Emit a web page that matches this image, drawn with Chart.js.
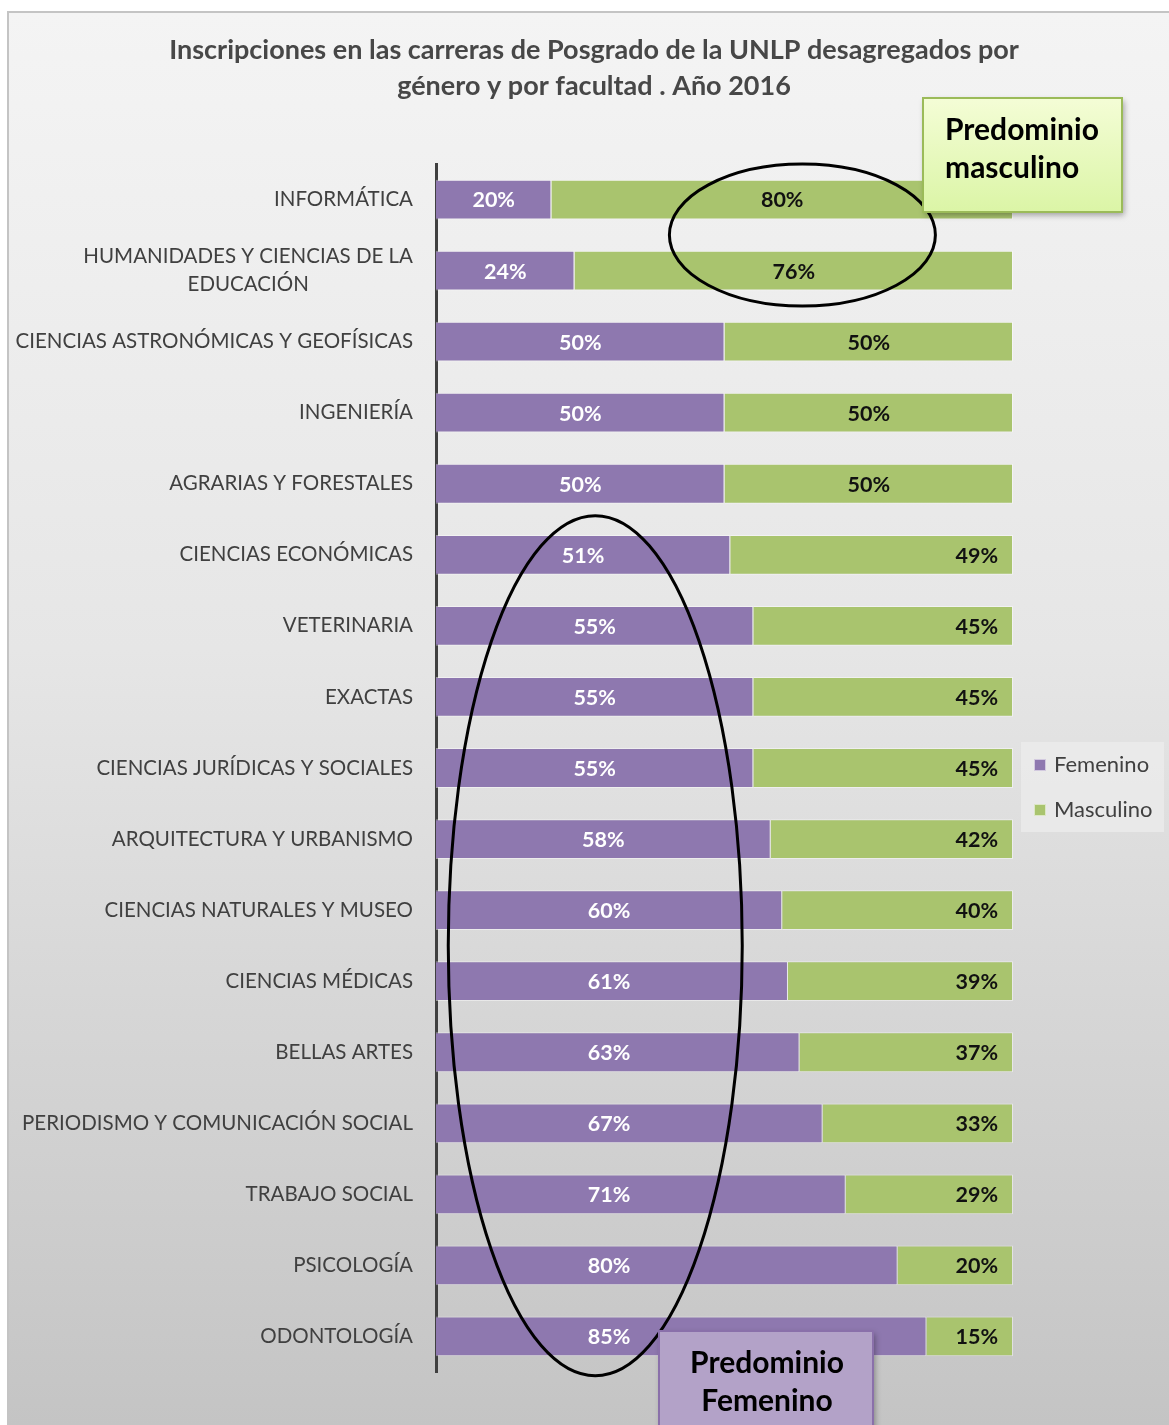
<!DOCTYPE html>
<html>
<head>
<meta charset="utf-8">
<script src="https://cdn.jsdelivr.net/npm/chart.js@4/dist/chart.umd.min.js"></script>
<style>
  html, body { margin: 0; padding: 0; background: #ffffff; }
  #wrap { position: relative; width: 1169px; height: 1425px; overflow: hidden; background: #ffffff; }
  #panel { position: absolute; left: 7px; top: 11px; width: 1162px; height: 1414px;
           border-top: 2px solid #c4c4c4; border-left: 2px solid #c4c4c4; box-sizing: border-box;
           background: linear-gradient(to bottom, #f4f4f4 0%, #e6e6e6 45%, #c4c4c4 100%); }
  canvas { position: absolute; left: 0; top: 0; }
</style>
</head>
<body>
<div id="wrap">
  <div id="panel"></div>
  <canvas id="c" width="1169" height="1425"></canvas>
</div>
<script>
const titleLines = ['Inscripciones en las carreras de Posgrado de la UNLP desagregados por', 'género y por facultad . Año 2016'];
const categories = [
  'INFORMÁTICA',
  ['HUMANIDADES Y CIENCIAS DE LA', 'EDUCACIÓN'],
  'CIENCIAS ASTRONÓMICAS Y GEOFÍSICAS',
  'INGENIERÍA',
  'AGRARIAS Y FORESTALES',
  'CIENCIAS ECONÓMICAS',
  'VETERINARIA',
  'EXACTAS',
  'CIENCIAS JURÍDICAS Y SOCIALES',
  'ARQUITECTURA Y URBANISMO',
  'CIENCIAS NATURALES Y MUSEO',
  'CIENCIAS MÉDICAS',
  'BELLAS ARTES',
  'PERIODISMO Y COMUNICACIÓN SOCIAL',
  'TRABAJO SOCIAL',
  'PSICOLOGÍA',
  'ODONTOLOGÍA'
];
const femenino  = [20, 24, 50, 50, 50, 51, 55, 55, 55, 58, 60, 61, 63, 67, 71, 80, 85];
const masculino = [80, 76, 50, 50, 50, 49, 45, 45, 45, 42, 40, 39, 37, 33, 29, 20, 15];
const seriesNames = ['Femenino', 'Masculino'];
const boxMasculino = ['Predominio', 'masculino'];
const boxFemenino = ['Predominio', 'Femenino'];

const FONT = 'Lato, "Open Sans", sans-serif';
const PURPLE = '#8E78AF';
const GREEN = '#A9C46E';

const customPlugin = {
  id: 'customDraw',
  beforeDraw(chart) {
    const ctx = chart.ctx;
    ctx.save();
    ctx.fillStyle = '#474747';
    ctx.font = 'bold 27px ' + FONT;
    ctx.textAlign = 'center';
    ctx.textBaseline = 'middle';
    ctx.fillText(titleLines[0], 594, 50);
    ctx.fillText(titleLines[1], 594, 86);
    ctx.restore();
  },
  afterDatasetsDraw(chart) {
    const ctx = chart.ctx;
    const xs = chart.scales.x, ys = chart.scales.y;
    ctx.save();
    // category labels
    ctx.fillStyle = '#404040';
    ctx.font = '20.5px ' + FONT;
    ctx.textBaseline = 'middle';
    chart.data.labels.forEach((lab, i) => {
      const y = ys.getPixelForValue(i);
      if (Array.isArray(lab)) {
        ctx.textAlign = 'center';
        let maxW = 0;
        lab.forEach(l => { maxW = Math.max(maxW, ctx.measureText(l).width); });
        const cx = 413 - maxW / 2;
        lab.forEach((l, k) => ctx.fillText(l, cx, y + (k - (lab.length - 1) / 2) * 28));
      } else {
        ctx.textAlign = 'right';
        ctx.fillText(lab, 413, y);
      }
    });
    // value labels
    ctx.font = 'bold 21.5px ' + FONT;
    const limit = xs.getPixelForValue(60);
    chart.data.datasets.forEach((ds, di) => {
      const meta = chart.getDatasetMeta(di);
      meta.data.forEach((el, i) => {
        const p = el.getProps(['x', 'base', 'y'], true);
        const v = ds.data[i];
        const txt = v + '%';
        if (di === 0) {
          ctx.fillStyle = '#ffffff';
          ctx.textAlign = 'center';
          const end = Math.min(p.x, limit);
          ctx.fillText(txt, (p.base + end) / 2, p.y + 1);
        } else {
          ctx.fillStyle = '#111111';
          if (v < 50) {
            ctx.textAlign = 'right';
            ctx.fillText(txt, p.x - 15, p.y + 1);
          } else {
            ctx.textAlign = 'center';
            ctx.fillText(txt, (p.base + p.x) / 2, p.y + 1);
          }
        }
      });
    });
    // legend
    ctx.fillStyle = 'rgba(236,236,236,0.75)';
    ctx.fillRect(1021, 742, 143, 90);
    ctx.font = '22px ' + FONT;
    ctx.textAlign = 'left';
    chart.data.datasets.forEach((ds, di) => {
      const cy = 765 + di * 45;
      ctx.fillStyle = ds.backgroundColor;
      ctx.fillRect(1034, cy - 6, 12, 12);
      ctx.strokeStyle = 'rgba(255,255,255,0.6)';
      ctx.lineWidth = 1;
      ctx.strokeRect(1034.5, cy - 5.5, 11, 11);
      ctx.fillStyle = '#404040';
      ctx.fillText(ds.label, 1054, cy);
    });
    ctx.restore();
  },
  afterDraw(chart) {
    const ctx = chart.ctx;
    const xs = chart.scales.x, ys = chart.scales.y;
    ctx.save();
    // ellipses
    ctx.strokeStyle = '#000000';
    ctx.lineWidth = 3;
    const e1y = (ys.getPixelForValue(0) + ys.getPixelForValue(1)) / 2;
    ctx.beginPath();
    ctx.ellipse(xs.getPixelForValue(63.5), e1y, 133, 71, 0, 0, Math.PI * 2);
    ctx.stroke();
    const e2y = (ys.getPixelForValue(5) + ys.getPixelForValue(16)) / 2;
    ctx.beginPath();
    ctx.ellipse(xs.getPixelForValue(27.6), e2y, 147, 430, 0, 0, Math.PI * 2);
    ctx.stroke();

    // masculino box
    ctx.save();
    ctx.shadowColor = 'rgba(0,0,0,0.35)';
    ctx.shadowBlur = 6;
    ctx.shadowOffsetX = 2;
    ctx.shadowOffsetY = 3;
    let g = ctx.createLinearGradient(0, 98, 0, 212);
    g.addColorStop(0, '#f4fdd6');
    g.addColorStop(1, '#dbf5a6');
    ctx.fillStyle = g;
    ctx.fillRect(923, 98, 199, 114);
    ctx.restore();
    ctx.strokeStyle = '#9bbb59';
    ctx.lineWidth = 2;
    ctx.strokeRect(923, 98, 199, 114);
    ctx.fillStyle = '#000000';
    ctx.font = 'bold 30px ' + FONT;
    ctx.textAlign = 'left';
    ctx.textBaseline = 'middle';
    ctx.fillText(boxMasculino[0], 945, 130);
    ctx.fillText(boxMasculino[1], 945, 168);

    // femenino box
    ctx.save();
    ctx.shadowColor = 'rgba(0,0,0,0.35)';
    ctx.shadowBlur = 6;
    ctx.shadowOffsetX = 2;
    ctx.shadowOffsetY = 3;
    ctx.fillStyle = '#b3a2c8';
    ctx.fillRect(659, 1331, 214, 110);
    ctx.restore();
    ctx.strokeStyle = '#8a70aa';
    ctx.lineWidth = 2;
    ctx.strokeRect(659, 1331, 214, 110);
    ctx.fillStyle = '#000000';
    ctx.textAlign = 'center';
    ctx.fillText(boxFemenino[0], 767, 1363);
    ctx.fillText(boxFemenino[1], 767, 1401);
    ctx.restore();
  }
};

new Chart(document.getElementById('c'), {
  type: 'bar',
  data: {
    labels: categories,
    datasets: [
      { label: seriesNames[0], data: femenino, backgroundColor: PURPLE, borderColor: 'rgba(255,255,255,0.45)', borderWidth: 1 },
      { label: seriesNames[1], data: masculino, backgroundColor: GREEN, borderColor: 'rgba(255,255,255,0.45)', borderWidth: 1 }
    ]
  },
  options: {
    indexAxis: 'y',
    responsive: false,
    animation: false,
    events: [],
    layout: { padding: { left: 436, right: 156, top: 164, bottom: 53 } },
    datasets: { bar: { categoryPercentage: 1, barPercentage: 0.56 } },
    scales: {
      x: { stacked: true, min: 0, max: 100, display: false },
      y: {
        stacked: true,
        grid: { display: false },
        ticks: { display: false },
        border: { display: true, color: '#404040', width: 3 },
        afterFit(scale) { scale.width = 0; }
      }
    },
    plugins: { legend: { display: false }, title: { display: false }, tooltip: { enabled: false } }
  },
  plugins: [customPlugin]
});
</script>
</body>
</html>
